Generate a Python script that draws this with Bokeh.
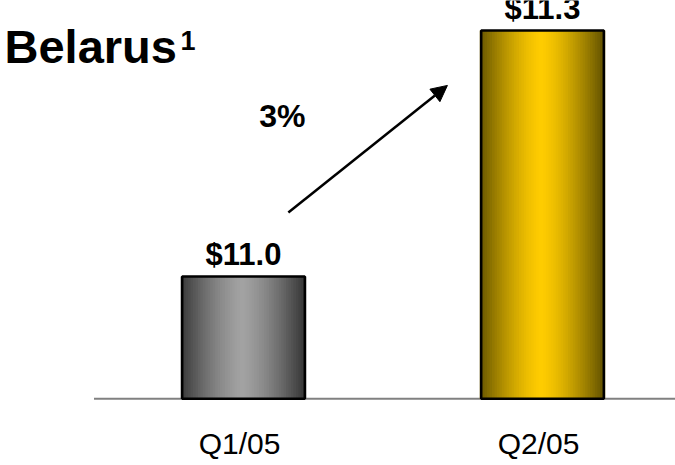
from bokeh.plotting import figure
from bokeh.models import Range1d, Arrow, NormalHead, ColumnDataSource
from bokeh.core.properties import value
from bokeh.embed import file_html
from bokeh.resources import INLINE

# ---- data ----
categories = ["Q1/05", "Q2/05"]
values = [11.0, 11.3]
value_labels = ["$11.0", "$11.3"]
title_text = "Belarus"
title_sup = "1"
growth_label = "3%"
axis_floor = 10.851

edge_colors = [(0x38, 0x38, 0x38), (0x66, 0x55, 0x00)]
center_colors = [(0xa2, 0xa2, 0xa2), (0xff, 0xcc, 0x00)]

xpos = [0, 1]
bar_w = 0.41
X0, X1 = -0.8127, 1.4448
Y0, Y1 = 10.7695, 11.3366

p = figure(width=675, height=465, output_backend="svg", toolbar_location=None,
           x_range=Range1d(X0, X1), y_range=Range1d(Y0, Y1),
           min_border=0, min_border_left=0, min_border_right=0,
           min_border_top=0, min_border_bottom=0)
p.axis.visible = False
p.grid.visible = False
p.outline_line_color = None
p.background_fill_color = "white"
p.border_fill_color = "white"

# baseline
p.segment(x0=[xpos[0] - 0.5], y0=[axis_floor], x1=[X1], y1=[axis_floor],
          line_color="#808080", line_width=2)

# gradient bars as strips
N = 50
sx, stop, scol = [], [], []
for i, (xc, v) in enumerate(zip(xpos, values)):
    for k in range(N):
        t = (k + 0.5) / N
        f = 1 - abs(2 * t - 1) ** 1.4
        c = tuple(int(round(edge_colors[i][j] + (center_colors[i][j] - edge_colors[i][j]) * f)) for j in range(3))
        sx.append(xc - bar_w / 2 + t * bar_w)
        stop.append(v)
        scol.append("#%02x%02x%02x" % c)
p.vbar(x=sx, top=stop, bottom=axis_floor, width=bar_w / N * 2.2, fill_color=scol, line_color=None)

src = ColumnDataSource(dict(x=xpos, top=values, lab=value_labels, cat=categories,
                            floor=[axis_floor] * 2))
p.vbar(x="x", top="top", bottom="floor", width=bar_w, source=src,
       fill_color=None, line_color="black", line_width=2.5)

# value labels
p.text(x="x", y="top", text="lab", source=src, text_align="center", text_baseline="middle",
       y_offset=-22, text_font=value("Liberation Sans"), text_font_style="bold",
       text_font_size="31px", text_color="black")

# category labels
p.text(x="x", y="floor", text="cat", source=src, text_align="center", text_baseline="middle",
       y_offset=45, x_offset=-4, text_font=value("Liberation Sans"), text_font_size="30px",
       text_color="black")

# growth arrow
p.add_layout(Arrow(end=NormalHead(size=16, fill_color="black", line_color="black"),
                   x_start=xpos[0] + 0.15, y_start=values[0] + 0.078,
                   x_end=xpos[1] - 0.318, y_end=values[1] - 0.067,
                   line_color="black", line_width=2.5))
p.text(x=[xpos[0] + 0.13], y=[values[1] - 0.104], text=[growth_label], text_align="center",
       text_baseline="middle", text_font=value("Liberation Sans"), text_font_style="bold",
       text_font_size="32px", text_color="black")

# title
p.text(x=[X0], y=[Y1], text=[title_text], text_align="left", text_baseline="middle",
       x_offset=4, y_offset=46, text_font=value("Liberation Sans"), text_font_style="bold",
       text_font_size="47px", text_color="black")
p.text(x=[X0], y=[Y1], text=[title_sup], text_align="left", text_baseline="middle",
       x_offset=180, y_offset=40, text_font=value("Liberation Sans"), text_font_style="bold",
       text_font_size="27px", text_color="black")

open("out.html", "w").write(file_html(p, INLINE))
